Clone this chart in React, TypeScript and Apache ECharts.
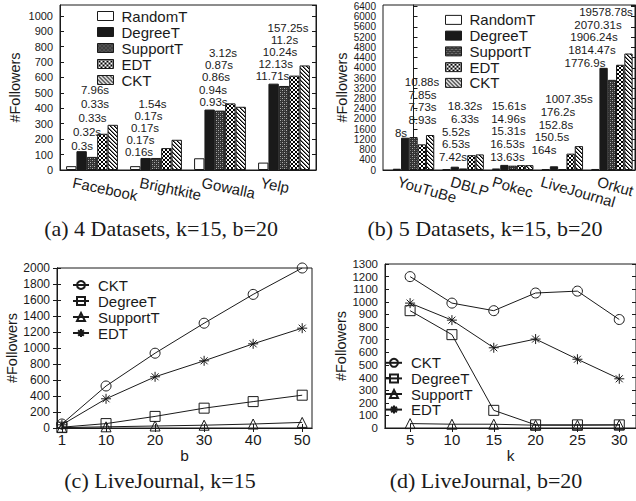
import { useEffect, useRef } from 'react';
import * as echarts from 'echarts';

// ---------- data ----------
const methods = ['RandomT', 'DegreeT', 'SupportT', 'EDT', 'CKT'];

const catsA = ['Facebook', 'Brightkite', 'Gowalla', 'Yelp'];
const randomA = [25, 25, 76, 48];
const degreeA = [122, 78, 392, 560];
const supportA = [85, 78, 385, 545];
const edtA = [235, 142, 432, 612];
const cktA = [293, 196, 410, 678];
const timesA = [
  ['7.96s', '0.33s', '0.33s', '0.32s', '0.3s'],
  ['1.54s', '0.17s', '0.17s', '0.17s', '0.16s'],
  ['3.12s', '0.87s', '0.86s', '0.94s', '0.93s'],
  ['157.25s', '11.2s', '10.24s', '12.13s', '11.71s'],
];

const catsB = ['YouTuBe', 'DBLP', 'Pokec', 'LiveJournal', 'Orkut'];
const randomB = [50, 30, 60, 30, 40];
const degreeB = [1265, 130, 200, 145, 4000];
const supportB = [1290, 60, 170, 25, 3530];
const edtB = [1005, 580, 190, 640, 4120];
const cktB = [1370, 610, 190, 935, 4560];
const timesB = [
  ['10.88s', '7.85s', '7.73s', '8.93s', '8s'],
  ['18.32s', '6.33s', '5.52s', '6.53s', '7.42s'],
  ['15.61s', '14.96s', '15.31s', '16.53s', '13.63s'],
  ['1007.35s', '176.2s', '152.8s', '150.5s', '164s'],
  ['19578.78s', '2070.31s', '1906.24s', '1814.47s', '1776.9s'],
];

const lineNames = ['CKT', 'DegreeT', 'SupportT', 'EDT'];
const bTicks = [1, 10, 20, 30, 40, 50];
const cktC = [50, 525, 935, 1310, 1670, 2000];
const degreeC = [10, 55, 145, 248, 330, 410];
const supportC = [5, 15, 25, 35, 50, 70];
const edtC = [40, 365, 640, 840, 1052, 1248];

const kTicks = [5, 10, 15, 20, 25, 30];
const cktD = [1200, 990, 930, 1070, 1085, 860];
const degreeD = [930, 740, 140, 25, 25, 25];
const supportD = [35, 30, 30, 22, 22, 24];
const edtD = [990, 855, 636, 705, 545, 390];

const captions = [
  '(a) 4 Datasets, k=15, b=20',
  '(b) 5 Datasets, k=15, b=20',
  '(c) LiveJournal, k=15',
  '(d) LiveJournal, b=20',
];

// ---------- style ----------
const ink = '#1a1a1a';
const font = "'Liberation Sans', Arial, Helvetica, sans-serif";
const serif = "'Liberation Serif', 'Times New Roman', serif";

function makePattern(kind: string) {
  const s = 4;
  const c = document.createElement('canvas');
  c.width = s;
  c.height = s;
  const g = c.getContext('2d')!;
  const px = (x: number, y: number, col: string) => {
    g.fillStyle = col;
    g.fillRect(x, y, 1, 1);
  };
  if (kind === 'support') {
    g.fillStyle = '#333';
    g.fillRect(0, 0, s, s);
    px(0, 0, '#b0b0b0');
    px(2, 2, '#b0b0b0');
    px(2, 0, '#666');
    px(0, 2, '#666');
  } else if (kind === 'edt') {
    g.fillStyle = '#fff';
    g.fillRect(0, 0, s, s);
    for (let i = 0; i < s; i++) {
      px(i, i, '#000');
      px(i, s - 1 - i, '#000');
    }
  } else {
    g.fillStyle = '#fff';
    g.fillRect(0, 0, s, s);
    for (let i = 0; i < s; i++) {
      px(i, i, '#000');
      px((i + 1) % s, i, '#777');
    }
  }
  return { image: c, repeat: 'repeat', imageWidth: s, imageHeight: s } as any;
}

// label layout (pixel offsets, bottom line first, relative to the DegreeT bar top)
const layoutA = {
  gap: 0.19,
  dx: [
    [0.4, 5.4, 10.9, 13.4, 13.4],
    [-6.6, -5.1, -0.6, 2.9, 6.9],
    [3.9, 3.4, 6.4, 9.4, 13.4],
    [-1.1, 2.1, 6.4, 10.9, 14.4],
  ],
  dy: [5.5, 5.7, 7.9, 7.8],
  lh: [13.8, 12, 12.1, 11.9],
  fs: 11.5, catDx: [-19, -16, -18, -23], catDy: 12, rot: 12,
};
const layoutB = {
  gap: 0.163,
  dx: [
    [-4.2, 17.3, 17.3, 17.3, 16.8],
    [-1.8, 1.2, 1.2, 10.2, 10.2],
    [3, 3, 4, 4, 4.5],
    [-10, -2, 2, 4, 15],
    [-18.6, -11.6, -9.6, -5.6, 2.4],
  ],
  dy: [4.8, 9.7, 8, 16.3, 5],
  lh: [12.7, 12.7, 12.7, 12.7, 12.7],
  fs: 11.5, catDx: [-15.5, -12, -20, -21, -14], catDy: 11, rot: 16,
};

const makeLabelRenderer = (cats: string[], times: string[][], L: any) => (params: any, api: any) => {
  const i = params.dataIndex;
  const ci = api.value(0);
  const top = api.coord([ci, api.value(1)]);
  const base = api.coord([ci, 0]);
  const band = api.size([1, 0])[0];
  const barW = (band * (1 - L.gap)) / 5;
  const x0 = top[0] - barW;
  const lines = times[i];
  const n = lines.length;
  const children: any[] = lines.map((t: string, j: number) => {
    const r = n - 1 - j;
    return {
      type: 'text',
      x: x0 + L.dx[i][r],
      y: top[1] - L.dy[i] - r * L.lh[i],
      style: { text: t, fill: ink, fontSize: L.fs, fontFamily: font, align: 'center', verticalAlign: 'middle' },
    };
  });
  children.push({
    type: 'text',
    x: base[0] + L.catDx[i],
    y: base[1] + L.catDy,
    rotation: (-L.rot * Math.PI) / 180,
    style: { text: cats[i], fill: ink, fontSize: 15, fontFamily: font, align: 'left', verticalAlign: 'middle' },
  });
  return { type: 'group', children };
};

export default function App() {
  const ref = useRef<HTMLDivElement>(null);

  useEffect(() => {
    const chart = echarts.init(ref.current!, null, { renderer: 'svg' });

    const fills = ['#ffffff', ink, makePattern('support'), makePattern('edt'), makePattern('ckt')];
    const valsA = [randomA, degreeA, supportA, edtA, cktA];
    const valsB = [randomB, degreeB, supportB, edtB, cktB];
    const valsC = [cktC, degreeC, supportC, edtC];
    const valsD = [cktD, degreeD, supportD, edtD];
    const symbols = ['circle', 'rect', 'triangle', 'path://M5 0L5 10M0 5L10 5M1.5 1.5L8.5 8.5M1.5 8.5L8.5 1.5'];

    const grids = [
      { left: 60, top: 5, width: 256, height: 165 },
      { left: 383, top: 5, width: 252, height: 165 },
      { left: 57, top: 268, width: 255, height: 160 },
      { left: 385, top: 264, width: 253, height: 164 },
    ].map((g) => ({ ...g, show: true, borderColor: ink, borderWidth: 1, backgroundColor: 'transparent' }));

    const plain = (v: number) => String(v);
    const lineC = { color: ink, width: 1 };
    const yLeft = (gi: number, max: number, interval: number, fs: number, gap: number, showMax: boolean, lh?: number) => ({
      type: 'value', gridIndex: gi, min: 0, max, interval, position: 'left',
      name: '#Followers', nameLocation: 'middle', nameGap: gap,
      nameTextStyle: { fontSize: 14.5, fontFamily: font, color: ink },
      axisLine: { show: true, lineStyle: lineC },
      axisTick: { show: true, inside: true, length: 4, lineStyle: lineC },
      axisLabel: { fontSize: fs, lineHeight: lh || fs + 2, fontFamily: font, color: ink, margin: 7, showMaxLabel: showMax, showMinLabel: true, formatter: plain },
      splitLine: { show: false },
    });
    const yRight = (gi: number, max: number, interval: number) => ({
      type: 'value', gridIndex: gi, min: 0, max, interval, position: 'right',
      axisLine: { show: true, lineStyle: lineC },
      axisTick: { show: true, inside: true, length: 4, lineStyle: lineC },
      axisLabel: { show: false }, splitLine: { show: false },
    });
    const xCat = (gi: number, data: string[]) => ({
      type: 'category', gridIndex: gi, data,
      axisLine: { show: true, lineStyle: lineC }, axisTick: { show: false }, axisLabel: { show: false },
      splitLine: { show: false },
    });
    // datasets of panel (b) sit at positions 0..4 of a plain value axis (no labels)
    const xBand = (gi: number, min: number, max: number) => ({
      type: 'value', gridIndex: gi, min, max,
      axisLine: { show: true, lineStyle: lineC }, axisTick: { show: false }, axisLabel: { show: false },
      splitLine: { show: false },
    });
    const xVal = (gi: number, min: number, max: number, ticks: number[], name: string, pos: string) => ({
      type: 'value', gridIndex: gi, min, max, position: pos,
      name: pos === 'bottom' ? name : '', nameLocation: 'middle', nameGap: 19,
      nameTextStyle: { fontSize: 15.5, fontFamily: font, color: ink },
      axisLine: { show: true, lineStyle: lineC },
      axisTick: { show: true, inside: true, length: 4, lineStyle: lineC, customValues: ticks },
      axisLabel: { show: pos === 'bottom', customValues: ticks, fontSize: 15, fontFamily: font, color: ink, margin: 4, formatter: plain },
      splitLine: { show: false },
    });

    const barSeries = (vals: number[][], xi: number, yi: number, gap: string, pairs: boolean) =>
      methods.map((m, k) => ({
        type: 'bar', name: m, xAxisIndex: xi, yAxisIndex: yi,
        data: pairs ? vals[k].map((v, i) => [i, v]) : vals[k],
        barGap: '0%', barCategoryGap: gap,
        itemStyle: { color: fills[k], borderColor: ink, borderWidth: 1 },
      }));

    const lineSeries = (vals: number[][], xs: number[], xi: number, yi: number, tag: string) =>
      lineNames.map((m, k) => ({
        type: 'line', name: m + '#' + tag, xAxisIndex: xi, yAxisIndex: yi,
        data: xs.map((x, j) => [x, vals[k][j]]),
        symbol: symbols[k], symbolSize: 10, showSymbol: true, showAllSymbol: true,
        lineStyle: { color: ink, width: 1 },
        itemStyle: { color: 'rgba(255,255,255,0)', borderColor: ink, borderWidth: 1 },
      }));

    const barLegend = (left: number, top: number, lh: number) => ({
      data: methods, left, top, orient: 'vertical', icon: 'rect', padding: 0,
      itemWidth: 16, itemHeight: 9, itemGap: 0, selectedMode: false,
      itemStyle: { borderColor: ink, borderWidth: 1 },
      textStyle: { fontSize: 15, fontFamily: font, color: ink, lineHeight: lh, padding: [0, 0, 0, 3] },
    });
    const lineLegend = (left: number, top: number, lh: number, tag: string) => ({
      data: lineNames.map((n) => n + '#' + tag), left, top, orient: 'vertical', padding: 0,
      itemWidth: 16, itemHeight: 10, itemGap: 0, selectedMode: false,
      formatter: (n: string) => n.split('#')[0],
      textStyle: { fontSize: 15, fontFamily: font, color: ink, lineHeight: lh, padding: [0, 0, 0, 4] },
    });

    const capStyle = (text: string) => ({ text, fontSize: 22, fontFamily: serif, fill: ink, align: 'center', verticalAlign: 'middle' });

    const option: any = {
      animation: false,
      grid: grids,
      xAxis: [
        xCat(0, catsA),
        xBand(1, -0.615, 4.466),
        xVal(2, 0, 52, bTicks, 'b', 'bottom'),
        xVal(2, 0, 52, bTicks, 'b', 'top'),
        xVal(3, 2, 32, kTicks, 'k', 'bottom'),
        xVal(3, 2, 32, kTicks, 'k', 'top'),
      ],
      yAxis: [
        yLeft(0, 1070, 100, 11, 38, false),
        yRight(0, 1070, 100),
        yLeft(1, 6460, 400, 10, 34, false, 10),
        yRight(1, 6460, 400),
        yLeft(2, 2000, 200, 12, 34, true),
        yRight(2, 2000, 200),
        yLeft(3, 1300, 100, 11.5, 36, true, 12),
        yRight(3, 1300, 100),
      ],
      legend: [
        barLegend(97, 8, 16),
        barLegend(445, 12, 15.75),
        lineLegend(72, 277, 16, 'c'),
        lineLegend(385, 355, 15.6, 'd'),
      ],
      graphic: [
        { type: 'text', x: 161, y: 228, style: capStyle(captions[0]) },
        { type: 'text', x: 485, y: 228, style: capStyle(captions[1]) },
        { type: 'text', x: 160, y: 480, style: capStyle(captions[2]) },
        { type: 'text', x: 486, y: 480, style: capStyle(captions[3]) },
      ],
      series: [
        ...barSeries(valsA, 0, 0, '19%', false),
        ...barSeries(valsB, 1, 2, '16.3%', true),
        {
          type: 'custom', xAxisIndex: 0, yAxisIndex: 0, silent: true, clip: false, z: 10,
          data: catsA.map((_, i) => [i, degreeA[i]]),
          renderItem: makeLabelRenderer(catsA, timesA, layoutA),
        },
        {
          type: 'custom', xAxisIndex: 1, yAxisIndex: 2, silent: true, clip: false, z: 10,
          data: catsB.map((_, i) => [i, degreeB[i]]),
          renderItem: makeLabelRenderer(catsB, timesB, layoutB),
        },
        ...lineSeries(valsC, bTicks, 2, 4, 'c'),
        ...lineSeries(valsD, kTicks, 4, 6, 'd'),
      ],
    };

    chart.setOption(option);
    return () => chart.dispose();
  }, []);

  return <div ref={ref} style={{ position: 'absolute', left: 0, top: 0, width: 636, height: 501 }} />;
}
